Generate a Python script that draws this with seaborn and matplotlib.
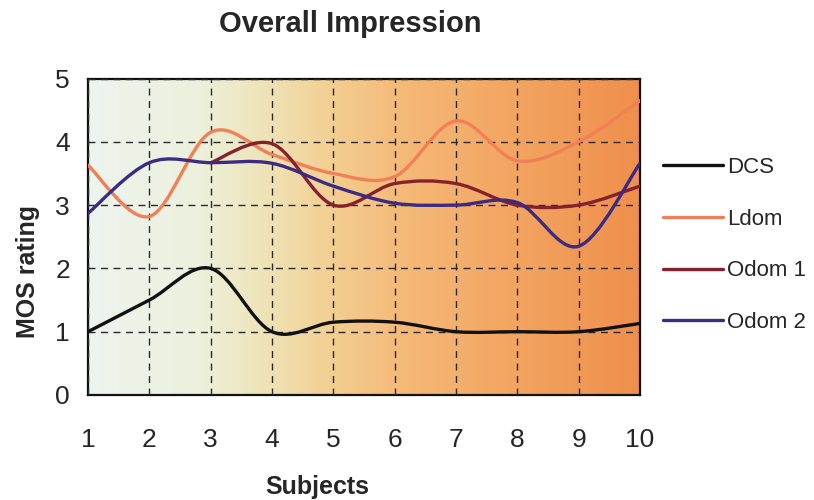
import numpy as np
import pandas as pd
import matplotlib
matplotlib.use("Agg")
import matplotlib.pyplot as plt
import seaborn as sns
from matplotlib.path import Path
from matplotlib.patches import PathPatch
from matplotlib.colors import LinearSegmentedColormap

# ---- data ----
subjects = [1, 2, 3, 4, 5, 6, 7, 8, 9, 10]
dcs = [1.0, 1.5, 2.0, 1.0, 1.15, 1.15, 1.0, 1.0, 1.0, 1.13]
ldom = [3.63, 2.82, 4.15, 3.8, 3.5, 3.45, 4.33, 3.7, 4.0, 4.65]
odom1 = [np.nan, np.nan, 3.67, 3.97, 3.0, 3.34, 3.34, 3.0, 3.0, 3.3]
odom2 = [2.87, 3.67, 3.67, 3.66, 3.3, 3.03, 3.0, 3.04, 2.35, 3.66]
series_names = ["DCS", "Ldom", "Odom 1", "Odom 2"]
series_vals = [dcs, ldom, odom1, odom2]
colors = ["#111111", "#f27f55", "#86202e", "#3b2b82"]
yticks = [0, 1, 2, 3, 4, 5]

df = pd.concat(
    [pd.DataFrame({"Subject": subjects, "MOS": v, "Series": n})
     for n, v in zip(series_names, series_vals)],
    ignore_index=True,
)

sns.set_style("white")
plt.rcParams["font.family"] = ["Liberation Sans", "DejaVu Sans"]

fig = plt.figure(figsize=(8.14, 5.0), dpi=100)
ax = fig.add_axes([88 / 814, 1 - 395 / 500, (640 - 88) / 814, (395 - 78.5) / 500])

# gradient background
grad_cols = [(0.0, "#eef4ef"), (0.2, "#ecf0dc"), (0.33, "#efe2b4"),
             (0.45, "#f3cd8f"), (0.57, "#f5b978"), (0.75, "#f3a763"), (1.0, "#ef8f4c")]
cmap = LinearSegmentedColormap.from_list("bg", grad_cols)
ax.imshow(np.linspace(0, 1, 256)[None, :], extent=[1, 10, 0, 5], aspect="auto",
          cmap=cmap, zorder=0, interpolation="bilinear")

# seaborn line mapping (legend handles); smoothed curves drawn below
sns.lineplot(data=df, x="Subject", y="MOS", hue="Series", palette=colors,
             hue_order=series_names, linewidth=0, ax=ax, legend=True, zorder=1)


def smooth_path(x, y):
    pts = np.column_stack([x, y]).astype(float)
    pts = pts[np.isfinite(pts[:, 1])]
    n = len(pts)
    verts = [pts[0]]
    codes = [Path.MOVETO]
    for i in range(n - 1):
        p0 = pts[max(i - 1, 0)]
        p1 = pts[i]
        p2 = pts[i + 1]
        p3 = pts[min(i + 2, n - 1)]
        c1 = p1 + (p2 - p0) / 6.0
        c2 = p2 - (p3 - p1) / 6.0
        verts += [c1, c2, p2]
        codes += [Path.CURVE4] * 3
    return Path(verts, codes)


for name, vals, col in zip(series_names, series_vals, colors):
    patch = PathPatch(smooth_path(subjects, vals), facecolor="none", edgecolor=col,
                      lw=2.4, zorder=3, capstyle="round", joinstyle="round")
    ax.add_patch(patch)

ax.set_xlim(1, 10)
ax.set_ylim(0, 5)
ax.set_xticks(subjects)
ax.set_yticks(yticks)
ax.grid(True, linestyle=(0, (5, 4)), color="#2a2a2a", lw=1.0, zorder=2)
ax.set_axisbelow(False)
for sp in ax.spines.values():
    sp.set_visible(True)
    sp.set_color("#111111")
    sp.set_linewidth(1.6)
ax.tick_params(axis="both", length=0, labelsize=19)
ax.tick_params(axis="x", pad=24)
ax.tick_params(axis="y", pad=13)
ax.set_xlabel("")
ax.set_ylabel("")

handles, labels = ax.get_legend_handles_labels()
leg = ax.legend(handles, labels, loc="center left",
                bbox_to_anchor=(663 / 814, 1 - 245 / 500), bbox_transform=fig.transFigure,
                frameon=False, fontsize=16, handlelength=2.7, handletextpad=0.2,
                labelspacing=1.38, borderpad=0, borderaxespad=0)
for h in leg.get_lines():
    h.set_linewidth(2.4)

fig.text(350 / 814, 1 - 24 / 500, "Overall Impression", ha="center", va="center",
         fontsize=21, fontweight="bold")
fig.text(317 / 814, 1 - 487 / 500, "Subjects", ha="center", va="center",
         fontsize=18, fontweight="bold")
fig.text(28 / 814, 1 - 271 / 500, "MOS rating", ha="center", va="center",
         fontsize=18, fontweight="bold", rotation=90)

fig.savefig("out.png", dpi=100)
